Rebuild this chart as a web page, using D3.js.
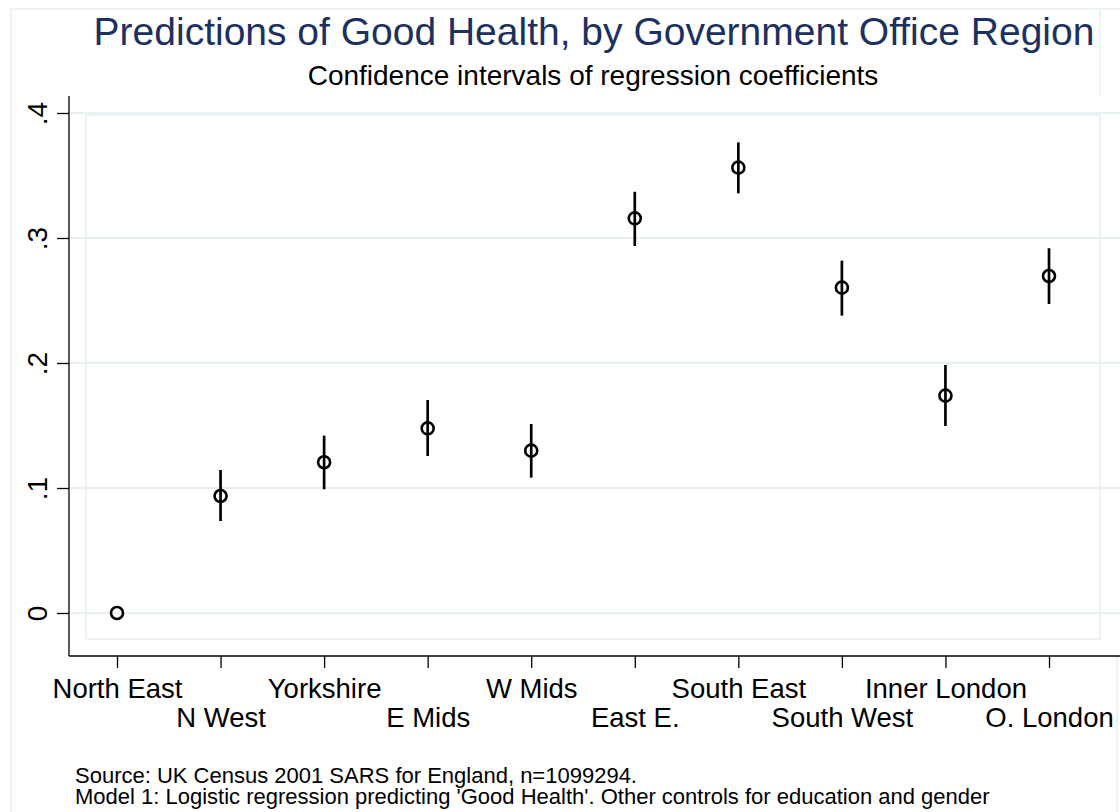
<!DOCTYPE html>
<html>
<head>
<meta charset="utf-8">
<script src="https://cdn.jsdelivr.net/npm/d3@7"></script>
<style>
  html, body { margin: 0; padding: 0; background: #fff; }
  svg { display: block; font-family: "Liberation Sans", Arial, sans-serif; }
</style>
</head>
<body>
<svg id="chart" width="1120" height="812"></svg>
<script>
// Region order along the x axis
const regions = ["North East", "N West", "Yorkshire", "E Mids", "W Mids",
                 "East E.", "South East", "South West", "Inner London", "O. London"];
// Point estimates (log-odds coefficients, North East = reference)
const coef  = [0, 0.0936, 0.1206, 0.1477, 0.1299, 0.3157, 0.3563, 0.2603, 0.1739, 0.2696];
// 95% confidence bounds
const lower = [null, 0.0736, 0.0990, 0.1256, 0.1083, 0.2936, 0.3357, 0.2379, 0.1496, 0.2472];
const upper = [null, 0.1144, 0.1419, 0.1704, 0.1512, 0.3370, 0.3765, 0.2819, 0.1984, 0.2918];
// y-axis ticks and their labels
const yTicks = [0, 0.1, 0.2, 0.3, 0.4];
const yTickLabels = ["0", ".1", ".2", ".3", ".4"];

const title = "Predictions of Good Health, by Government Office Region";
const subtitle = "Confidence intervals of regression coefficients";
const notes = ["Source: UK Census 2001 SARS for England, n=1099294.",
               "Model 1: Logistic regression predicting 'Good Health'. Other controls for education and gender"];

const svg = d3.select("#chart");
const light = "#e8f0f2";

// Outer graph frame
svg.append("rect").attr("x", 11).attr("y", 9).attr("width", 1120).attr("height", 820)
  .attr("fill", "none").attr("stroke", light).attr("stroke-width", 1.5);
svg.append("line").attr("x1", 1100).attr("x2", 1100).attr("y1", 9).attr("y2", 95)
  .attr("stroke", light).attr("stroke-width", 1.5);
svg.append("line").attr("x1", 1117).attr("x2", 1117).attr("y1", 656).attr("y2", 812)
  .attr("stroke", light).attr("stroke-width", 1.5);

// Scales
const x = d3.scaleLinear().domain([0, regions.length - 1]).range([117, 1049]);
const y = d3.scaleLinear().domain([0, 0.4]).range([613, 113]);

// Plot region border
svg.append("rect").attr("x", 86).attr("y", 115).attr("width", 1014).attr("height", 524)
  .attr("fill", "none").attr("stroke", light).attr("stroke-width", 1.5);

// Gridlines
svg.append("g").selectAll("line").data(yTicks).join("line")
  .attr("x1", 69).attr("x2", 1120)
  .attr("y1", d => y(d)).attr("y2", d => y(d))
  .attr("stroke", light).attr("stroke-width", 2);

// Y axis
const yAxis = svg.append("g").attr("transform", "translate(69,0)")
  .call(d3.axisLeft(y).tickValues(yTicks).tickSize(12).tickFormat((d, i) => yTickLabels[i]));
yAxis.select(".domain").remove();
yAxis.append("line").attr("x1", 0).attr("x2", 0).attr("y1", 96).attr("y2", 656)
  .attr("stroke", "#000").attr("stroke-width", 1.3);
yAxis.selectAll(".tick line").attr("stroke", "#000").attr("stroke-width", 1.3);
yAxis.selectAll(".tick text")
  .attr("x", null).attr("dy", null)
  .attr("transform", "translate(-22,0) rotate(-90)")
  .attr("text-anchor", "middle")
  .attr("fill", "#000")
  .style("font-size", "28px");

// X axis
const xAxis = svg.append("g").attr("transform", "translate(0,656)")
  .call(d3.axisBottom(x).tickValues(d3.range(regions.length)).tickSize(12)
    .tickFormat(i => regions[i]));
xAxis.select(".domain").remove();
xAxis.append("line").attr("x1", 69).attr("x2", 1120).attr("y1", 0).attr("y2", 0)
  .attr("stroke", "#000").attr("stroke-width", 1.3);
xAxis.selectAll(".tick line").attr("stroke", "#000").attr("stroke-width", 1.3);
xAxis.selectAll(".tick text")
  .attr("dy", null)
  .attr("y", (d, i) => i % 2 === 0 ? 42 : 71)
  .attr("fill", "#000")
  .style("font-size", "27.5px");

// Confidence interval spikes
const ci = coef.map((c, i) => ({ i, lo: lower[i], hi: upper[i] })).filter(d => d.lo !== null);
svg.append("g").selectAll("line").data(ci).join("line")
  .attr("x1", d => x(d.i)).attr("x2", d => x(d.i))
  .attr("y1", d => y(d.lo)).attr("y2", d => y(d.hi))
  .attr("stroke", "#000").attr("stroke-width", 2.7);

// Point estimates
svg.append("g").selectAll("circle").data(coef).join("circle")
  .attr("cx", (d, i) => x(i)).attr("cy", d => y(d)).attr("r", 6)
  .attr("fill", "none").attr("stroke", "#000").attr("stroke-width", 2.6);

// Titles
svg.append("text").attr("x", 594).attr("y", 45).attr("text-anchor", "middle")
  .attr("fill", "#1c3160").style("font-size", "39px").text(title);
svg.append("text").attr("x", 593).attr("y", 85).attr("text-anchor", "middle")
  .attr("fill", "#000").style("font-size", "28px").text(subtitle);

// Notes (two tightly stacked lines)
svg.append("g").selectAll("text").data(notes).join("text")
  .attr("x", 75).attr("y", (d, i) => 783 + i * 21)
  .attr("fill", "#000").style("font-size", "22px").text(d => d);
</script>
</body>
</html>
